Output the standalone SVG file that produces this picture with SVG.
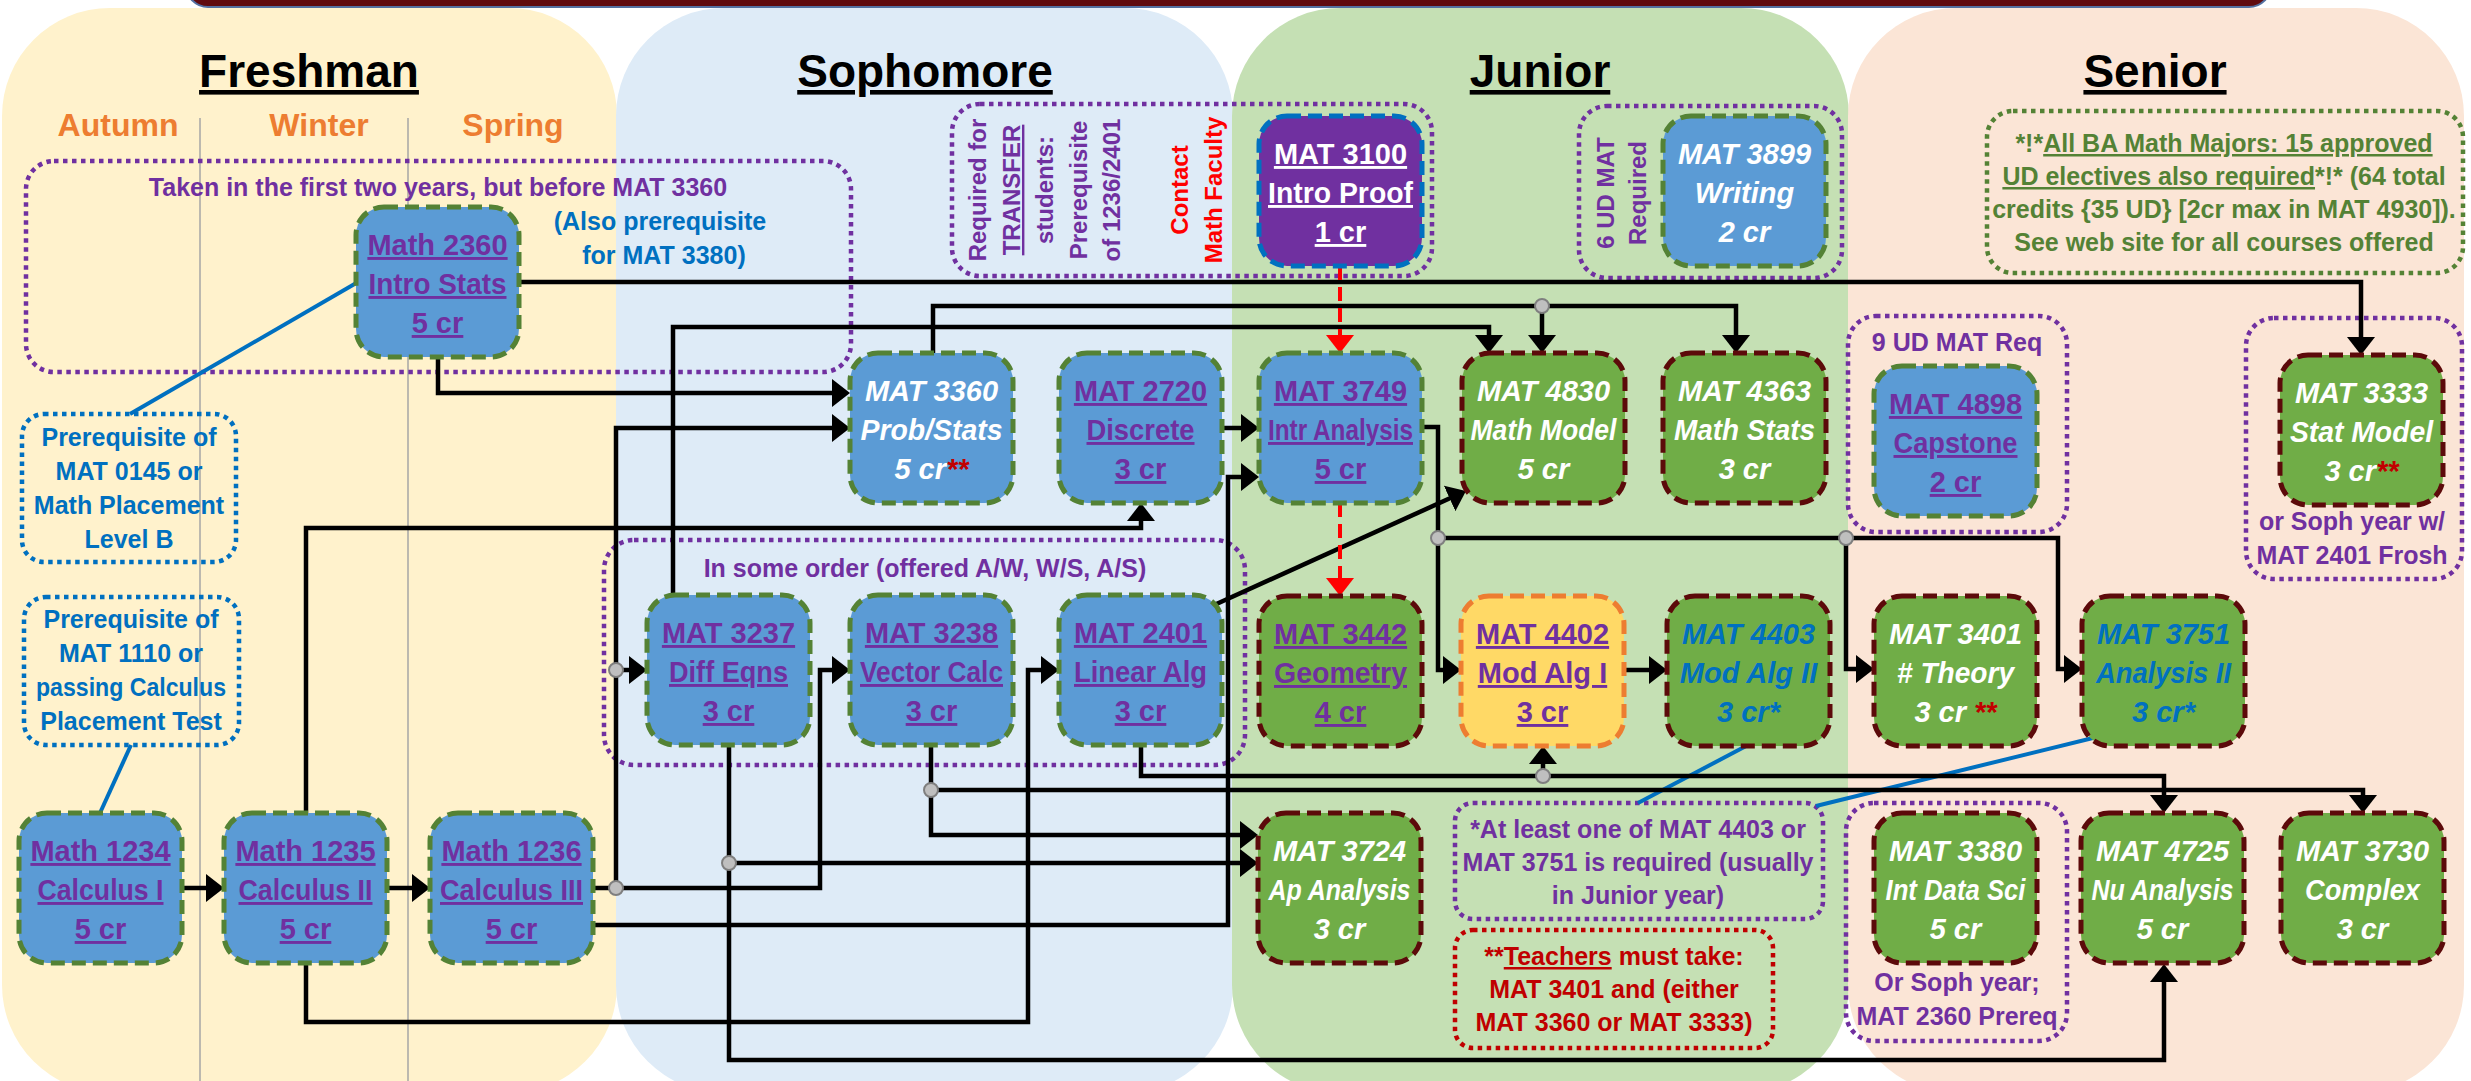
<svg xmlns="http://www.w3.org/2000/svg" width="2471" height="1081" viewBox="0 0 2471 1081">
<style>
text{font-family:"Liberation Sans",Arial,sans-serif;font-weight:bold;text-anchor:middle}
.title{font-size:46px;fill:#000;text-decoration:underline}
.season{font-size:32px;fill:#ED7D31}
.t{font-size:29px}
.tp{fill:#7030A0;text-decoration:underline}
.tw{fill:#fff;font-style:italic}
.twu{fill:#fff;text-decoration:underline}
.tb{fill:#0070C0;font-style:italic}
.rr{fill:#C00000}
.s{font-size:25px}
.v{font-size:24px}
.pu{fill:#7030A0}
.bl{fill:#0070C0}
.gr{fill:#548235}
.rd{fill:#FF0000}
.dr{fill:#C00000}
.u{text-decoration:underline}
.node rect{stroke-width:5;stroke-dasharray:14 7}
.nb{fill:#5B9BD5;stroke:#548235}
.ng{fill:#70AD47;stroke:#5C0A0A}
.ny{fill:#FFD966;stroke:#ED7D31}
.np{fill:#7030A0;stroke:#0070C0}
.dot{fill:none;stroke-width:4.5;stroke-dasharray:4.5 4.5}
.c{fill:none;stroke:#000;stroke-width:4.5;marker-end:url(#ah)}
.cr{fill:none;stroke:#FF0000;stroke-width:4;stroke-dasharray:14 7;marker-end:url(#ahr)}
.cb{fill:none;stroke:#0070C0;stroke-width:4}
.j{fill:#BFBFBF;stroke:#7F7F7F;stroke-width:2}
</style>
<defs>
<marker id="ah" markerUnits="userSpaceOnUse" markerWidth="18" markerHeight="28" refX="10" refY="14" orient="auto" viewBox="0 0 18 28"><path d="M0,0 L18,14 L0,28 z" fill="#000"/></marker>
<marker id="ahr" markerUnits="userSpaceOnUse" markerWidth="18" markerHeight="28" refX="10" refY="14" orient="auto" viewBox="0 0 18 28"><path d="M0,0 L18,14 L0,28 z" fill="#FF0000"/></marker>
</defs>
<rect width="2471" height="1081" fill="#fff"/>
<g id="backgrounds">
<rect x="186" y="-40" width="2085" height="47" rx="22" fill="#600A0E" stroke="#5470A0" stroke-width="2"/>
<rect x="2" y="8" width="615" height="1085" rx="108" fill="#FFF2CC"/>
<rect x="616" y="8" width="617" height="1085" rx="108" fill="#DEEBF7"/>
<rect x="1232" y="8" width="617" height="1085" rx="108" fill="#C5E0B4"/>
<rect x="1848" y="8" width="616" height="1085" rx="108" fill="#FBE5D6"/>
<line x1="200" y1="118" x2="200" y2="1081" stroke="#A6A6A6" stroke-width="1.5"/>
<line x1="408" y1="118" x2="408" y2="1081" stroke="#A6A6A6" stroke-width="1.5"/>
<text class="title" x="309" y="87">Freshman</text>
<text class="title" x="925" y="87">Sophomore</text>
<text class="title" x="1540" y="87">Junior</text>
<text class="title" x="2155" y="87">Senior</text>
<text class="season" x="118" y="136">Autumn</text>
<text class="season" x="319" y="136">Winter</text>
<text class="season" x="513" y="136">Spring</text>
</g>
<g id="annotations">
<g id="note-first-two-years">
<rect class="dot" x="26" y="161" width="825" height="211" rx="28" stroke="#7030A0"/>
<text class="s pu" x="438" y="196">Taken in the first two years, but before MAT 3360</text>
<text class="s bl" x="660" y="230">(Also prerequisite</text>
<text class="s bl" x="664" y="264">for MAT 3380)</text>
</g>
<g id="note-prereq-0145">
<rect class="dot" x="22" y="414" width="214" height="148" rx="22" stroke="#0070C0"/>
<text class="s bl" x="129" y="446">Prerequisite of</text>
<text class="s bl" x="129" y="480">MAT 0145 or</text>
<text class="s bl" x="129" y="514">Math Placement</text>
<text class="s bl" x="129" y="548">Level B</text>
</g>
<g id="note-prereq-1110">
<rect class="dot" x="24" y="597" width="215" height="148" rx="22" stroke="#0070C0"/>
<text class="s bl" x="131" y="628">Prerequisite of</text>
<text class="s bl" x="131" y="662">MAT 1110 or</text>
<text class="s bl" x="131" y="696" textLength="190" lengthAdjust="spacingAndGlyphs">passing Calculus</text>
<text class="s bl" x="131" y="730">Placement Test</text>
</g>
<g id="note-transfer">
<rect class="dot" x="952" y="104" width="480" height="172" rx="28" stroke="#7030A0"/>
<text class="v pu" transform="translate(986,190) rotate(-90)">Required for</text>
<text class="v pu u" transform="translate(1020,190) rotate(-90)">TRANSFER</text>
<text class="v pu" transform="translate(1053,190) rotate(-90)">students:</text>
<text class="v pu" transform="translate(1087,190) rotate(-90)">Prerequisite</text>
<text class="v pu" transform="translate(1120,190) rotate(-90)">of 1236/2401</text>
<text class="v rd" transform="translate(1188,190) rotate(-90)">Contact</text>
<text class="v rd" transform="translate(1222,190) rotate(-90)">Math Faculty</text>
</g>
<g id="note-6ud">
<rect class="dot" x="1579" y="106" width="263" height="172" rx="28" stroke="#7030A0"/>
<text class="v pu" transform="translate(1614,193) rotate(-90)">6 UD MAT</text>
<text class="v pu" transform="translate(1646,193) rotate(-90)">Required</text>
</g>
<g id="note-ba">
<rect class="dot" x="1987" y="111" width="476" height="162" rx="26" stroke="#548235"/>
<text class="s gr" x="2224" y="152">*!*<tspan class="u">All BA Math Majors: 15 approved</tspan></text>
<text class="s gr" x="2224" y="185"><tspan class="u">UD electives also required</tspan>*!* (64 total</text>
<text class="s gr" x="2224" y="218">credits {35 UD} [2cr max in MAT 4930]).</text>
<text class="s gr" x="2224" y="251">See web site for all courses offered</text>
</g>
<g id="note-9ud">
<rect class="dot" x="1848" y="316" width="219" height="216" rx="28" stroke="#7030A0"/>
<text class="s pu" x="1957" y="351">9 UD MAT Req</text>
</g>
<g id="note-3333">
<rect class="dot" x="2246" y="318" width="216" height="261" rx="28" stroke="#7030A0"/>
<text class="s pu" x="2352" y="530">or Soph year w/</text>
<text class="s pu" x="2352" y="564">MAT 2401 Frosh</text>
</g>
<g id="note-some-order">
<rect class="dot" x="604" y="540" width="641" height="225" rx="30" stroke="#7030A0"/>
<text class="s pu" x="925" y="577">In some order (offered A/W, W/S, A/S)</text>
</g>
<g id="note-at-least">
<rect class="dot" x="1455" y="803" width="368" height="116" rx="18" stroke="#7030A0"/>
<text class="s pu" x="1638" y="838">*At least one of MAT 4403 or</text>
<text class="s pu" x="1638" y="871">MAT 3751 is required (usually</text>
<text class="s pu" x="1638" y="904">in Junior year)</text>
</g>
<g id="note-teachers">
<rect class="dot" x="1455" y="930" width="318" height="118" rx="18" stroke="#C00000"/>
<text class="s dr" x="1614" y="965">**<tspan class="u">Teachers</tspan> must take:</text>
<text class="s dr" x="1614" y="998">MAT 3401 and (either</text>
<text class="s dr" x="1614" y="1031">MAT 3360 or MAT 3333)</text>
</g>
<g id="note-3380">
<rect class="dot" x="1846" y="803" width="221" height="238" rx="28" stroke="#7030A0"/>
<text class="s pu" x="1957" y="991">Or Soph year;</text>
<text class="s pu" x="1957" y="1025">MAT 2360 Prereq</text>
</g>
</g>
<g id="connectors">
<path class="cb" d="M358,282 L130,414"/>
<path class="cb" d="M131,745 L100,813"/>
<path class="cb" d="M1748,745 L1638,803"/>
<path class="cb" d="M2097,737 L1816,806"/>
<path class="c" d="M182,888 H216"/>
<path class="c" d="M387,888 H422"/>
<path class="c" d="M306,813 V528 H1141 V511"/>
<path class="c" d="M306,963 V1022 H1028 V670 H1051"/>
<path class="c" d="M594,888 H616 V428 H842"/>
<path class="c" d="M616,670 H639"/>
<path class="c" d="M616,888 H820 V670 H842"/>
<path class="c" d="M594,925 H1228 V477 H1251"/>
<path class="c" d="M438,357 V393 H842"/>
<path class="c" d="M520,282 H2361 V347"/>
<path class="c" d="M933,353 V306 H1736 V345"/>
<path class="c" d="M1542,306 V345"/>
<path class="c" d="M673,595 V327 H1489 V345"/>
<path class="c" d="M1222,428 H1251"/>
<path class="c" d="M1422,427 H1438 V670 H1453"/>
<path class="c" d="M1438,538 H2058 V669 H2074"/>
<path class="c" d="M1846,538 V669 H1866"/>
<path class="c" d="M1212,606 L1458.7,494.3"/>
<path class="c" d="M1624,670 H1659"/>
<path class="c" d="M1141,745 V776 H2164 V805"/>
<path class="c" d="M1543,776 V754"/>
<path class="c" d="M931,745 V790 H2363 V805"/>
<path class="c" d="M931,790 V835 H1250"/>
<path class="c" d="M729,745 V863 H1250"/>
<path class="c" d="M729,863 V1060 H2164 V972"/>
<path class="cr" d="M1340,266 V345"/>
<path class="cr" d="M1340,503 V588"/>
<circle class="j" cx="616" cy="670" r="7"/>
<circle class="j" cx="616" cy="888" r="7"/>
<circle class="j" cx="1542" cy="306" r="7"/>
<circle class="j" cx="1438" cy="538" r="7"/>
<circle class="j" cx="1846" cy="538" r="7"/>
<circle class="j" cx="1543" cy="776" r="7"/>
<circle class="j" cx="931" cy="790" r="7"/>
<circle class="j" cx="729" cy="863" r="7"/>
</g>
<g id="math1234" class="node"><rect class="nb" x="19" y="813" width="163" height="150" rx="28"/>
<text class="t tp" x="100.5" y="861">Math 1234</text><text class="t tp" x="100.5" y="900" textLength="126" lengthAdjust="spacingAndGlyphs">Calculus I</text><text class="t tp" x="100.5" y="939">5 cr</text></g>
<g id="math1235" class="node"><rect class="nb" x="224" y="813" width="163" height="150" rx="28"/>
<text class="t tp" x="305.5" y="861">Math 1235</text><text class="t tp" x="305.5" y="900" textLength="134" lengthAdjust="spacingAndGlyphs">Calculus II</text><text class="t tp" x="305.5" y="939">5 cr</text></g>
<g id="math1236" class="node"><rect class="nb" x="430" y="813" width="163" height="150" rx="28"/>
<text class="t tp" x="511.5" y="861">Math 1236</text><text class="t tp" x="511.5" y="900" textLength="143" lengthAdjust="spacingAndGlyphs">Calculus III</text><text class="t tp" x="511.5" y="939">5 cr</text></g>
<g id="math2360" class="node"><rect class="nb" x="356" y="207" width="163" height="150" rx="28"/>
<text class="t tp" x="437.5" y="255">Math 2360</text><text class="t tp" x="437.5" y="294" textLength="138" lengthAdjust="spacingAndGlyphs">Intro Stats</text><text class="t tp" x="437.5" y="333">5 cr</text></g>
<g id="mat3360" class="node"><rect class="nb" x="850" y="353" width="163" height="150" rx="28"/>
<text class="t tw" x="931.5" y="401">MAT 3360</text><text class="t tw" x="931.5" y="440" textLength="142" lengthAdjust="spacingAndGlyphs">Prob/Stats</text><text class="t tw" x="931.5" y="479">5 cr<tspan class="rr">**</tspan></text></g>
<g id="mat2720" class="node"><rect class="nb" x="1059" y="353" width="163" height="150" rx="28"/>
<text class="t tp" x="1140.5" y="401">MAT 2720</text><text class="t tp" x="1140.5" y="440" textLength="108" lengthAdjust="spacingAndGlyphs">Discrete</text><text class="t tp" x="1140.5" y="479">3 cr</text></g>
<g id="mat3237" class="node"><rect class="nb" x="647" y="595" width="163" height="150" rx="28"/>
<text class="t tp" x="728.5" y="643">MAT 3237</text><text class="t tp" x="728.5" y="682" textLength="119" lengthAdjust="spacingAndGlyphs">Diff Eqns</text><text class="t tp" x="728.5" y="721">3 cr</text></g>
<g id="mat3238" class="node"><rect class="nb" x="850" y="595" width="163" height="150" rx="28"/>
<text class="t tp" x="931.5" y="643">MAT 3238</text><text class="t tp" x="931.5" y="682" textLength="143" lengthAdjust="spacingAndGlyphs">Vector Calc</text><text class="t tp" x="931.5" y="721">3 cr</text></g>
<g id="mat2401" class="node"><rect class="nb" x="1059" y="595" width="163" height="150" rx="28"/>
<text class="t tp" x="1140.5" y="643">MAT 2401</text><text class="t tp" x="1140.5" y="682" textLength="133" lengthAdjust="spacingAndGlyphs">Linear Alg</text><text class="t tp" x="1140.5" y="721">3 cr</text></g>
<g id="mat3100" class="node"><rect class="np" x="1259" y="116" width="163" height="150" rx="28"/>
<text class="t twu" x="1340.5" y="164">MAT 3100</text><text class="t twu" x="1340.5" y="203" textLength="145" lengthAdjust="spacingAndGlyphs">Intro Proof</text><text class="t twu" x="1340.5" y="242">1 cr</text></g>
<g id="mat3899" class="node"><rect class="nb" x="1663" y="116" width="163" height="150" rx="28"/>
<text class="t tw" x="1744.5" y="164">MAT 3899</text><text class="t tw" x="1744.5" y="203">Writing</text><text class="t tw" x="1744.5" y="242">2 cr</text></g>
<g id="mat3749" class="node"><rect class="nb" x="1259" y="353" width="163" height="150" rx="28"/>
<text class="t tp" x="1340.5" y="401">MAT 3749</text><text class="t tp" x="1340.5" y="440" textLength="145" lengthAdjust="spacingAndGlyphs">Intr Analysis</text><text class="t tp" x="1340.5" y="479">5 cr</text></g>
<g id="mat4830" class="node"><rect class="ng" x="1462" y="353" width="163" height="150" rx="28"/>
<text class="t tw" x="1543.5" y="401">MAT 4830</text><text class="t tw" x="1543.5" y="440" textLength="146" lengthAdjust="spacingAndGlyphs">Math Model</text><text class="t tw" x="1543.5" y="479">5 cr</text></g>
<g id="mat4363" class="node"><rect class="ng" x="1663" y="353" width="163" height="150" rx="28"/>
<text class="t tw" x="1744.5" y="401">MAT 4363</text><text class="t tw" x="1744.5" y="440" textLength="141" lengthAdjust="spacingAndGlyphs">Math Stats</text><text class="t tw" x="1744.5" y="479">3 cr</text></g>
<g id="mat3442" class="node"><rect class="ng" x="1259" y="596" width="163" height="150" rx="28"/>
<text class="t tp" x="1340.5" y="644">MAT 3442</text><text class="t tp" x="1340.5" y="683" textLength="133" lengthAdjust="spacingAndGlyphs">Geometry</text><text class="t tp" x="1340.5" y="722">4 cr</text></g>
<g id="mat4402" class="node"><rect class="ny" x="1461" y="596" width="163" height="150" rx="28"/>
<text class="t tp" x="1542.5" y="644">MAT 4402</text><text class="t tp" x="1542.5" y="683">Mod Alg I</text><text class="t tp" x="1542.5" y="722">3 cr</text></g>
<g id="mat4403" class="node"><rect class="ng" x="1667" y="596" width="163" height="150" rx="28"/>
<text class="t tb" x="1748.5" y="644">MAT 4403</text><text class="t tb" x="1748.5" y="683">Mod Alg II</text><text class="t tb" x="1748.5" y="722">3 cr*</text></g>
<g id="mat3724" class="node"><rect class="ng" x="1258" y="813" width="163" height="150" rx="28"/>
<text class="t tw" x="1339.5" y="861">MAT 3724</text><text class="t tw" x="1339.5" y="900" textLength="142" lengthAdjust="spacingAndGlyphs">Ap Analysis</text><text class="t tw" x="1339.5" y="939">3 cr</text></g>
<g id="mat4898" class="node"><rect class="nb" x="1874" y="366" width="163" height="150" rx="28"/>
<text class="t tp" x="1955.5" y="414">MAT 4898</text><text class="t tp" x="1955.5" y="453" textLength="124" lengthAdjust="spacingAndGlyphs">Capstone</text><text class="t tp" x="1955.5" y="492">2 cr</text></g>
<g id="mat3333" class="node"><rect class="ng" x="2280" y="355" width="163" height="150" rx="28"/>
<text class="t tw" x="2361.5" y="403">MAT 3333</text><text class="t tw" x="2361.5" y="442" textLength="143" lengthAdjust="spacingAndGlyphs">Stat Model</text><text class="t tw" x="2361.5" y="481">3 cr<tspan class="rr">**</tspan></text></g>
<g id="mat3401" class="node"><rect class="ng" x="1874" y="596" width="163" height="150" rx="28"/>
<text class="t tw" x="1955.5" y="644">MAT 3401</text><text class="t tw" x="1955.5" y="683" textLength="117" lengthAdjust="spacingAndGlyphs"># Theory</text><text class="t tw" x="1955.5" y="722">3 cr <tspan class="rr">**</tspan></text></g>
<g id="mat3751" class="node"><rect class="ng" x="2082" y="596" width="163" height="150" rx="28"/>
<text class="t tb" x="2163.5" y="644">MAT 3751</text><text class="t tb" x="2163.5" y="683" textLength="135" lengthAdjust="spacingAndGlyphs">Analysis II</text><text class="t tb" x="2163.5" y="722">3 cr*</text></g>
<g id="mat3380" class="node"><rect class="ng" x="1874" y="813" width="163" height="150" rx="28"/>
<text class="t tw" x="1955.5" y="861">MAT 3380</text><text class="t tw" x="1955.5" y="900" textLength="140" lengthAdjust="spacingAndGlyphs">Int Data Sci</text><text class="t tw" x="1955.5" y="939">5 cr</text></g>
<g id="mat4725" class="node"><rect class="ng" x="2081" y="813" width="163" height="150" rx="28"/>
<text class="t tw" x="2162.5" y="861">MAT 4725</text><text class="t tw" x="2162.5" y="900" textLength="142" lengthAdjust="spacingAndGlyphs">Nu Analysis</text><text class="t tw" x="2162.5" y="939">5 cr</text></g>
<g id="mat3730" class="node"><rect class="ng" x="2281" y="813" width="163" height="150" rx="28"/>
<text class="t tw" x="2362.5" y="861">MAT 3730</text><text class="t tw" x="2362.5" y="900" textLength="115" lengthAdjust="spacingAndGlyphs">Complex</text><text class="t tw" x="2362.5" y="939">3 cr</text></g>
</svg>
